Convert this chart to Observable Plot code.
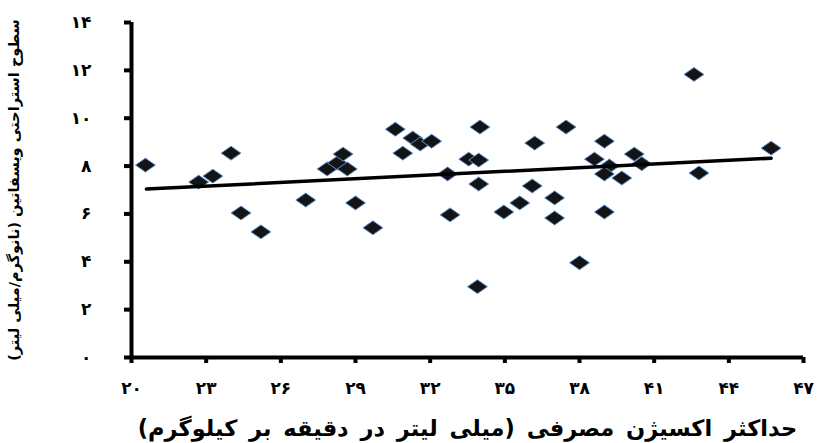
<!DOCTYPE html>
<html><head><meta charset="utf-8">
<script src="https://cdn.jsdelivr.net/npm/d3@7"></script>
<script src="https://cdn.jsdelivr.net/npm/@observablehq/plot@0.6"></script>
<style>
body{margin:0;background:#fff;}
svg text{font-family:"DejaVu Sans",sans-serif;}
</style>
</head><body><div id="chart"></div>
<script>
// VO2max (ml/kg/min)
const vo2 = [20.56,22.7,23.27,24.0,24.4,25.2,27.0,27.86,28.27,28.5,28.67,29.0,29.7,30.6,30.9,31.3,31.6,32.06,32.7,32.8,34.0,33.55,33.95,33.95,33.9,37.46,36.2,36.1,35.6,34.96,37.0,37.0,38.0,39.0,38.6,39.2,39.0,39.7,39.0,40.2,40.5,42.6,42.8,45.7];
// Resting visfatin (ng/ml)
const visfatin = [8.04,7.33,7.58,8.54,6.04,5.25,6.58,7.88,8.13,8.5,7.88,6.46,5.42,9.54,8.54,9.17,8.92,9.04,7.67,5.96,9.63,8.29,8.25,7.25,2.96,9.63,8.96,7.17,6.46,6.08,6.67,5.83,3.96,9.04,8.29,8.0,7.67,7.5,6.08,8.5,8.1,11.83,7.71,8.75];
// trend line endpoints
const trendX = [20.6, 45.7];
const trendY = [7.04, 8.33];
const xTicks = [20,23,26,29,32,35,38,41,44,47];
const xTickLabels = ["۲۰","۲۳","۲۶","۲۹","۳۲","۳۵","۳۸","۴۱","۴۴","۴۷"];
const yTicks = [0,2,4,6,8,10,12,14];
const yTickLabels = ["۰","۲","۴","۶","۸","۱۰","۱۲","۱۴"];
const xLabel = "حداکثر اکسیژن مصرفی (میلی لیتر در دقیقه بر کیلوگرم)\u200F";
const yLabel = "سطوح استراحتی ویسفاتین (نانوگرم/میلی لیتر)\u200F";

const points = vo2.map((v, i) => ({x: v, y: visfatin[i]}));
const trend = trendX.map((v, i) => ({x: v, y: trendY[i]}));

const flatDiamond = {
  draw(ctx, size) {
    const s = Math.sqrt(size);
    const hw = s * 0.7, hh = s * 0.49;
    ctx.moveTo(-hw, 0);
    ctx.lineTo(0, -hh);
    ctx.lineTo(hw, 0);
    ctx.lineTo(0, hh);
    ctx.closePath();
  }
};

const chart = Plot.plot({
  width: 822,
  height: 443,
  marginLeft: 131,
  marginRight: 19,
  marginTop: 22,
  marginBottom: 86,
  style: {fontFamily: "DejaVu Sans, sans-serif", background: "#fff"},
  x: {domain: [20, 47]},
  y: {domain: [0, 14]},
  marks: [
    Plot.axisY(yTicks, {
      tickSize: 7, strokeWidth: 4, tickPadding: 33,
      tickFormat: d => yTickLabels[yTicks.indexOf(d)],
      fontSize: 17, fontWeight: "bold",
      label: yLabel, labelAnchor: "center", labelArrow: "none", labelOffset: 123
    }),
    Plot.axisX(xTicks, {
      tickSize: 6, strokeWidth: 4, tickPadding: 18,
      tickFormat: d => xTickLabels[xTicks.indexOf(d)],
      fontSize: 17, fontWeight: "bold",
      label: xLabel, labelAnchor: "center", labelArrow: "none", labelOffset: 78
    }),
    Plot.ruleX([20], {stroke: "#000", strokeWidth: 4}),
    Plot.ruleY([0], {stroke: "#000", strokeWidth: 4}),
    Plot.dot(points, {x: "x", y: "y", symbol: flatDiamond, r: 8, fill: "#141414", stroke: "#5b8fd0", strokeWidth: 1}),
    Plot.line(trend, {x: "x", y: "y", stroke: "#000", strokeWidth: 3.5})
  ]
});
document.getElementById("chart").appendChild(chart);
// bold, larger axis titles; spaced tick digits
chart.querySelectorAll("text").forEach(t => {
  if (t.textContent.includes("حداکثر")) { t.setAttribute("font-size", 22.5); t.setAttribute("font-weight", "bold"); t.setAttribute("word-spacing", "4"); }
  else if (t.textContent.includes("سطوح")) { t.setAttribute("font-size", 14.5); t.setAttribute("font-weight", "bold"); }
  else if (/^[۰-۹]+$/.test(t.textContent) && t.textContent.length > 1) { t.setAttribute("letter-spacing", "4"); }
});
</script>
</body></html>
